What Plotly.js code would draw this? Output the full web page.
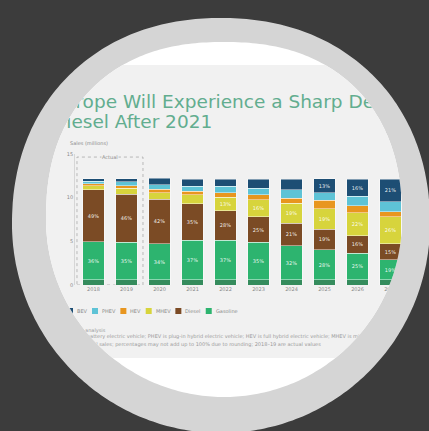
<!DOCTYPE html>
<html><head><meta charset="utf-8">
<script src="https://cdn.plot.ly/plotly-3.0.1.min.js"></script>
<style>
html,body{margin:0;padding:0;background:#3c3c3c;width:429px;height:431px;overflow:hidden;}
#ring,#disc{position:absolute;left:0;top:0;width:429px;height:431px;}
#ring{background:#d5d5d5;}
#disc{background:#ffffff;}
#chart{position:absolute;left:0;top:65px;width:429px;height:293px;}
</style></head>
<body><div id="ring"></div><div id="disc"></div><div id="chart"></div>
<script>
// ---- data (million vehicles) ----
const years    = ['2018','2019','2020','2021','2022','2023','2024','2025','2026','2027'];
const other    = [0.60,0.60,0.60,0.60,0.60,0.60,0.60,0.60,0.60,0.60];
const gasoline = [4.38,4.27,4.12,4.50,4.50,4.27,3.89,3.43,3.05,2.29];
const diesel   = [5.92,5.54,5.11,4.20,3.43,2.97,2.60,2.37,1.98,1.83];
const mhev     = [0.46,0.69,0.76,1.03,1.53,1.91,2.29,2.36,2.67,3.12];
const hev      = [0.23,0.26,0.39,0.38,0.53,0.57,0.57,0.94,0.77,0.57];
const phev     = [0.29,0.46,0.49,0.57,0.69,0.77,0.95,0.86,1.09,1.14];
const bev      = [0.29,0.34,0.77,0.85,0.85,1.03,1.22,1.60,1.97,2.56];
const yTicks   = [0,5,10,15];
const titleLines = ['Europe Will Experience a Sharp Decline in','Diesel After 2021'];
const unitLabel = 'Sales (millions)';
const boxLabel = 'Actual';
const notes = [
  'Source: Bain analysis',
  'Notes: BEV is battery electric vehicle; PHEV is plug-in hybrid electric vehicle; HEV is full hybrid electric vehicle; MHEV is mild hybrid electric vehicle; figures',
  'are shares of total sales; percentages may not add up to 100% due to rounding; 2018\u201319 are actual values'
];

// ---- round frame ----
function framePoly(cx, cy, a, bTop, bBot, nTop, nBot, dy){
  const pts=[];
  for(let k=0;k<360;k++){
    const t=2*Math.PI*k/360, c=Math.cos(t), s=Math.sin(t);
    const top=s<0, n=top?nTop:nBot, b=top?bTop:bBot;
    const x=cx+a*Math.sign(c)*Math.pow(Math.abs(c),2/n);
    const y=cy+b*Math.sign(s)*Math.pow(Math.abs(s),2/n)-dy;
    pts.push(x.toFixed(1)+'px '+y.toFixed(1)+'px');
  }
  return 'polygon('+pts.join(',')+')';
}
document.getElementById('ring').style.clipPath = framePoly(221,224,209,206,209,2.15,2,0);
document.getElementById('disc').style.clipPath = framePoly(224,219.5,178,177.5,177.5,2.3,2,0);
document.getElementById('chart').style.clipPath = framePoly(224,219.5,178,177.5,177.5,2.3,2,65);

const series = [
  {name:'Other',    y:other,    color:'#358c5d', legend:false},
  {name:'Gasoline', y:gasoline, color:'#2db46f', legend:true},
  {name:'Diesel',   y:diesel,   color:'#7b4b25', legend:true},
  {name:'MHEV',     y:mhev,     color:'#d7d43c', legend:true},
  {name:'HEV',      y:hev,      color:'#e8961f', legend:true},
  {name:'PHEV',     y:phev,     color:'#5ec3d6', legend:true},
  {name:'BEV',      y:bev,      color:'#1d4e74', legend:true}
];
const totals = years.map((_,i)=>series.reduce((s,t)=>s+t.y[i],0));

const FONT = 'DejaVu Sans';
const traces = series.map(s=>({
  type:'bar', name:s.name, x:years, y:s.y,
  marker:{color:s.color, line:{color:'rgba(255,255,255,0.75)', width:0.6}},
  text: s.name==='Other' ? undefined : s.y.map((v,i)=>Math.round(v/totals[i]*100)+'%'),
  textposition:'inside', insidetextanchor:'middle', textangle:0,
  textfont:{family:FONT, size:5, color:'rgba(255,255,255,0.9)'},
  hoverinfo:'x+y+name', showlegend:false
}));

// plot-area geometry (px inside the chart div)
const W=429, H=293, mL=75, mR=22, mT=89, mB=73;
const pw=W-mL-mR, ph=H-mT-mB;
const px2x = p => (p-mL)/pw;
const px2y = p => 1-(p-mT)/ph;

const annotations = [];
const shapes = [];
annotations.push({xref:'paper',yref:'paper',x:px2x(50),y:px2y(36.5),xanchor:'left',yanchor:'middle',showarrow:false,
  text:titleLines[0],font:{family:FONT,size:18.5,color:'#62ad8f'}});
annotations.push({xref:'paper',yref:'paper',x:px2x(50),y:px2y(56.5),xanchor:'left',yanchor:'middle',showarrow:false,
  text:titleLines[1],font:{family:FONT,size:18.5,color:'#62ad8f'}});
annotations.push({xref:'paper',yref:'paper',x:px2x(68),y:px2y(78),xanchor:'left',yanchor:'middle',showarrow:false,
  text:unitLabel,font:{family:FONT,size:5,color:'#8a8a8a'}});
shapes.push({type:'rect',xref:'x',yref:'y',x0:-0.5,x1:1.5,y0:0,y1:14.65,
  line:{color:'#a8a8a8',width:0.8,dash:'dot'},fillcolor:'rgba(0,0,0,0)',layer:'below'});
annotations.push({xref:'x',yref:'y',x:0.5,y:14.65,showarrow:false,text:boxLabel,
  bgcolor:'#f1f1f1',borderpad:0,font:{family:FONT,size:5,color:'#8a8a8a'}});
const noteY=[265,271,279];
notes.forEach((t,i)=>annotations.push({xref:'paper',yref:'paper',x:px2x(50),y:px2y(noteY[i]),xanchor:'left',yanchor:'middle',
  showarrow:false,text:t,font:{family:FONT,size:5,color:'#9a9a9a'}}));
const ctx=document.createElement('canvas').getContext('2d');
ctx.font='5px "DejaVu Sans"';
let sx=67; const ly=246, sw=6;
series.filter(s=>s.legend).reverse().forEach(s=>{
  shapes.push({type:'rect',xref:'paper',yref:'paper',x0:px2x(sx),x1:px2x(sx+sw),y0:px2y(ly+sw/2),y1:px2y(ly-sw/2),
    line:{width:0},fillcolor:s.color});
  const tx=sx+sw+2;
  annotations.push({xref:'paper',yref:'paper',x:px2x(tx),y:px2y(ly),xanchor:'left',yanchor:'middle',showarrow:false,
    text:s.name,font:{family:FONT,size:5,color:'#8a8a8a'}});
  sx = tx + ctx.measureText(s.name).width + 7;
});

const layout = {
  width:W, height:H, margin:{l:mL,r:mR,t:mT,b:mB,pad:0},
  paper_bgcolor:'#f1f1f1', plot_bgcolor:'#f1f1f1',
  barmode:'stack', bargap:0.36, showlegend:false,
  uniformtext:{mode:'hide',minsize:5},
  font:{family:FONT,size:5,color:'#8a8a8a'},
  xaxis:{type:'category',range:[-0.56,9.5],showgrid:false,zeroline:false,showline:false,
    ticks:'',tickfont:{family:FONT,size:5,color:'#8a8a8a'}},
  yaxis:{range:[0,15],tickvals:yTicks,showgrid:false,zeroline:false,showline:true,linecolor:'#d0d0d0',linewidth:0.8,
    ticks:'',tickfont:{family:FONT,size:5,color:'#8a8a8a'}},
  annotations, shapes
};
Plotly.newPlot('chart', traces, layout, {displayModeBar:false, staticPlot:true});
</script>
</body></html>
